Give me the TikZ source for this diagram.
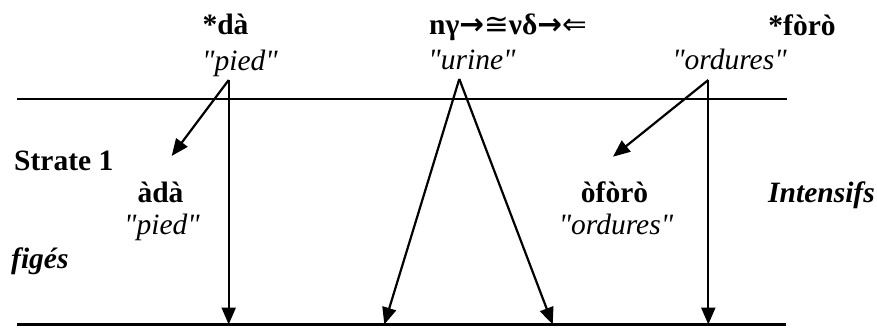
\documentclass[tikz,border=0pt]{standalone}
\usepackage{fontspec}
\newfontfamily\tms{Liberation Serif}
\newfontfamily\symf{DejaVu Sans}
\usetikzlibrary{arrows.meta}
\begin{document}
\begin{tikzpicture}[x=1pt,y=-1pt,
  txt/.style={inner sep=0pt, anchor=base},
  bt/.style={txt, font=\tms\fontsize{29.5}{33}\selectfont\bfseries},
  it/.style={txt, font=\tms\fontsize{29.5}{33}\selectfont\itshape},
  bit/.style={txt, font=\tms\fontsize{29.5}{33}\selectfont\bfseries\itshape},
  rulel/.style={line width=2.2pt},
  arr/.style={line width=2.2pt, -{Triangle[length=17pt,width=14pt]}}]
\useasboundingbox (0,0) rectangle (877,327);

% texts
\node[bt] (dA) at (225.5,34) {*dà};
\node[it] (dAg) at (240,70) {"pied"};
\node[bt] (ny) at (508,34) {nγ{\symf\bfseries →}{\symf\mdseries ≅}νδ{\symf\bfseries →}{\symf\mdseries ⇐}};
\node[it] (urine) at (472,69) {"urine"};
\node[bt] (foro) at (802,35) {*fòrò};
\node[it] (ord) at (729.5,69) {"ordures"};
\node[bt, anchor=base west] (strate) at (14,170.7) {Strate 1};
\node[bt] (ada) at (160.5,202.7) {àdà};
\node[it] (pied2) at (162,234) {"pied"};
\node[bt] (ofo) at (614.5,202.7) {òfòrò};
\node[it] (ord2) at (616,234) {"ordures"};
\node[bit, anchor=base west] (int) at (768,202.7) {Intensifs};
\node[bit, anchor=base west] (fig) at (11,268) {figés};

% coordinates
\coordinate (tl) at (17,99.3);
\coordinate (tr) at (787,99.3);
\coordinate (bl) at (17,324.5);
\coordinate (br) at (786,324.5);
\coordinate (sA) at (228.7,80);
\coordinate (eA) at (228.7,324.5);
\coordinate (dA1) at (171.7,156);
\coordinate (apex) at (459.3,79);
\coordinate (eT1) at (384.3,324.5);
\coordinate (eT2) at (552.7,324.5);
\coordinate (sB) at (708.3,80);
\coordinate (eB) at (708.3,324.5);
\coordinate (dB1) at (613,156.7);

% strata lines
\draw[rulel] (tl) -- (tr);
\draw[rulel] (bl) -- (br);

% arrows
\draw[arr] (sA) -- (eA);
\draw[arr] (sA) -- (dA1);
\draw[arr] (apex) -- (eT1);
\draw[arr] (apex) -- (eT2);
\draw[arr] (sB) -- (eB);
\draw[arr] (sB) -- (dB1);
\end{tikzpicture}
\end{document}
